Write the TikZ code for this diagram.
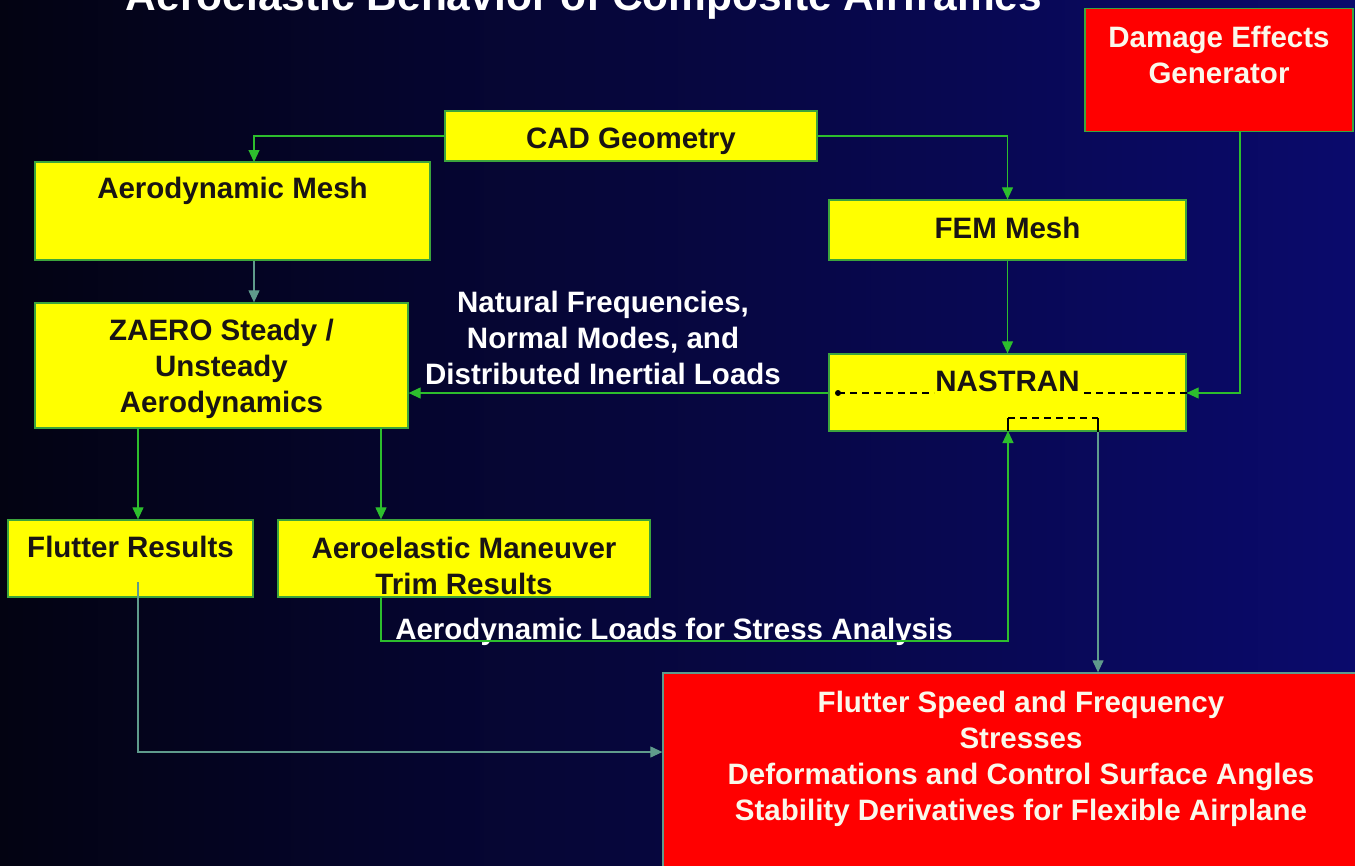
\documentclass[tikz,border=0pt]{standalone}
\usepackage{fontspec}
\setmainfont{Liberation Sans}
\usetikzlibrary{arrows.meta,calc}
\definecolor{bgl}{RGB}{3,3,18}
\definecolor{bgm}{RGB}{8,8,75}
\definecolor{bgr}{RGB}{10,10,108}
\definecolor{ybox}{RGB}{255,255,0}
\definecolor{rbox}{RGB}{255,0,0}
\definecolor{gline}{RGB}{45,190,45}
\definecolor{tline}{RGB}{95,155,140}
\definecolor{bordg}{RGB}{60,165,60}
\definecolor{ink}{RGB}{25,20,20}
\definecolor{cream}{RGB}{250,248,235}
\newcommand{\boxtext}[4]{\parbox[c][#2][t]{#1}{\centering\vspace*{#3}#4}}
\newcommand{\bfnt}{\fontsize{29.5}{36}\selectfont\bfseries}
\tikzset{
  ybx/.style={inner sep=0pt, draw=bordg, line width=1.3pt, fill=ybox, text=ink, font=\bfnt},
  rbx/.style={inner sep=0pt, draw=bordg, line width=1.3pt, fill=rbox, text=cream, font=\bfnt},
  lbl/.style={inner sep=0pt, text=white, font=\bfnt, align=center},
  gar/.style={draw=gline, line width=1.2pt, -{Triangle[length=12pt,width=11pt]}},
  tar/.style={draw=tline, line width=1.2pt, -{Triangle[length=12pt,width=11pt]}},
  dsh/.style={draw=black, line width=1.2pt, dash pattern=on 7pt off 5pt},
  sln/.style={draw=black, line width=1.2pt}
}
\begin{document}
\begin{tikzpicture}[x=1pt,y=-1pt]
\useasboundingbox (0,0) rectangle (1355,865);
\clip (0,0) rectangle (1355,865);
\shade[left color=bgl, middle color=bgm, right color=bgr] (0,0) rectangle (1355,865);
% title (cut at top, as in the reference)
\node[anchor=base, text=white, font=\fontsize{42.5}{50}\selectfont\bfseries] (title) at (584,10) {Aeroelastic Behavior of Composite Airframes};
% boxes
\node[ybx] (cad) at (631,136) {\boxtext{372pt}{50pt}{12.3pt}{\strut CAD Geometry}};
\node[ybx] (amesh) at (232.5,211) {\boxtext{395pt}{98pt}{11.3pt}{\strut Aerodynamic Mesh}};
\node[ybx] (fem) at (1007.5,230) {\boxtext{357pt}{60pt}{13.3pt}{\strut FEM Mesh}};
\node[ybx] (zaero) at (221.5,365.5) {\boxtext{373pt}{125pt}{12.3pt}{\strut ZAERO Steady /\\Unsteady\\Aerodynamics}};
\node[ybx] (nas) at (1007.5,392.5) {\boxtext{357pt}{77pt}{12.3pt}{\strut NASTRAN}};
\node[rbx] (dmg) at (1219,70) {\boxtext{268pt}{123pt}{13.3pt}{\strut Damage Effects\\Generator}};
\node[ybx] (flut) at (130.5,558.5) {\boxtext{245pt}{77pt}{12.3pt}{\strut Flutter Results}};
\node[ybx] (man) at (464,558.5) {\boxtext{372pt}{77pt}{13.3pt}{\strut Aeroelastic Maneuver\\Trim Results}};
\node[rbx, draw=tline] (out) at (1021,780) {\boxtext{716pt}{214pt}{14.3pt}{\strut Flutter Speed and Frequency\\Stresses\\Deformations and Control Surface Angles\\Stability Derivatives for Flexible Airplane}};
% labels
\node[lbl] (natf) at (603,338) {Natural Frequencies,\\Normal Modes, and\\Distributed Inertial Loads};
\node[lbl, anchor=base] (aload) at (674,639.5) {Aerodynamic Loads for Stress Analysis};
% helper coordinates
\coordinate (a1) at (254,162);
\coordinate (d1) at (1240,131);
\coordinate (z1) at (138,428);
\coordinate (z2) at (381,428);
\coordinate (m1) at (381,597);
\coordinate (n1) at (1008,431);
\coordinate (n2) at (1008,418);
\coordinate (n3) at (1098,418);
\coordinate (f1) at (138,582);
\coordinate (p1) at (838,393);
% connectors
\draw[gar] (cad.west) -| (a1);
\draw[gar] (cad.east) -| (fem.north);
\draw[tar] (a1 |- amesh.south) -- (a1 |- zaero.north);
\draw[gar] (fem.south) -- (nas.north);
\draw[gar] (d1) |- (p1 -| nas.east);
\draw[gar] (p1 -| nas.west) -- (p1 -| zaero.east);
\draw[gar] (z1) -- (z1 |- flut.north);
\draw[gar] (z2) -- (z2 |- man.north);
\draw[gar] (m1) -- ++(0,44) -| (n1);
\draw[tar] (f1) |- (out.west |- 0,752);
% dashed links inside NASTRAN
\fill[black] (p1) circle (3pt);
\draw[dsh] (p1) -- (934,393);
\draw[dsh] (1084,393) -- (p1 -| nas.east);
\draw[sln] (n1) -- (n2);
\draw[dsh] (n2) -- (n3);
\draw[sln] (n3) -- (n3 |- nas.south);
\draw[tar] (n3 |- nas.south) -- (n3 |- out.north);
\end{tikzpicture}
\end{document}
